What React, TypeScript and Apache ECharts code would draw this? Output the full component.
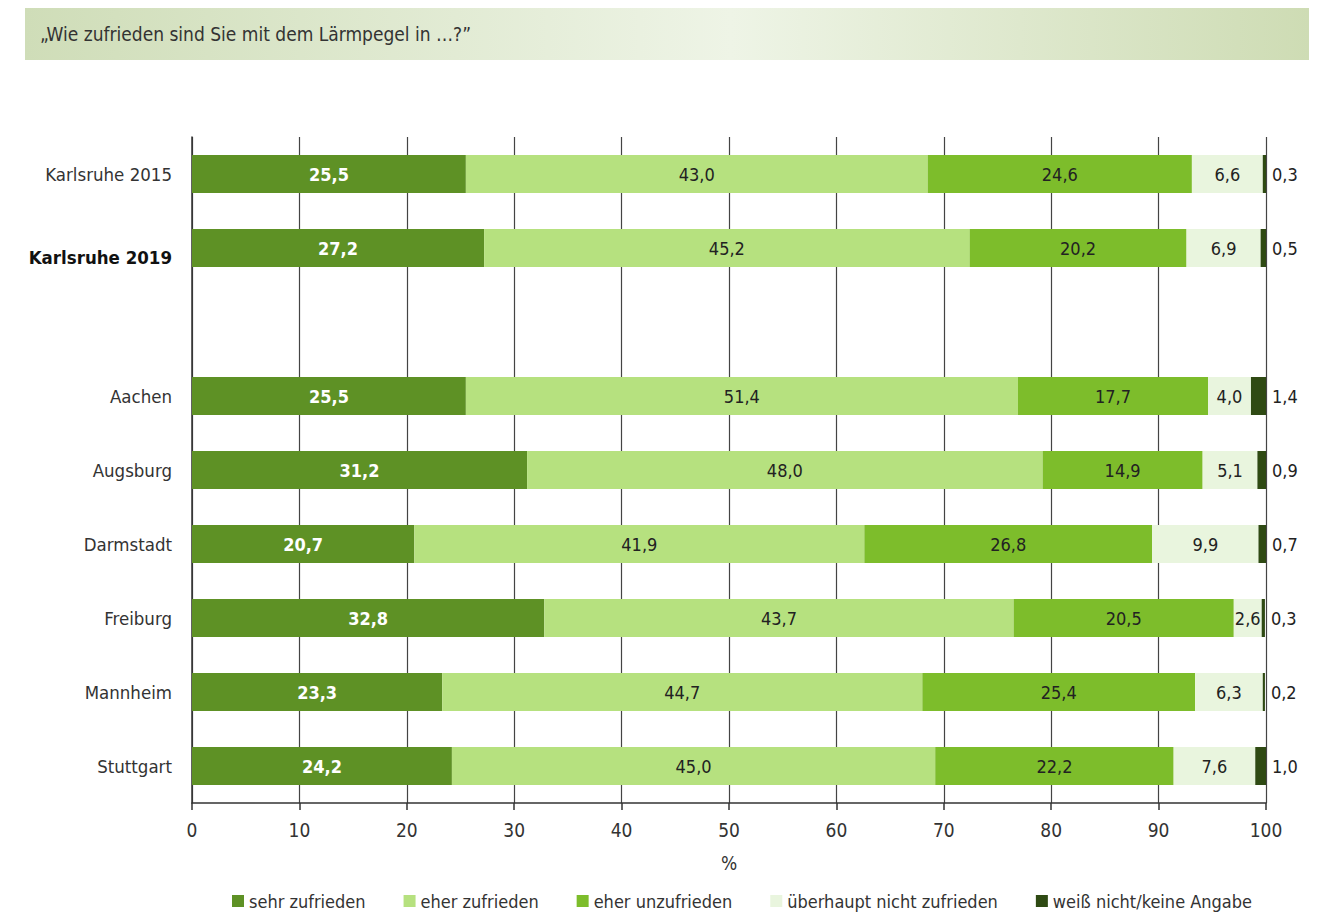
import React, { useEffect, useRef } from "react";
import * as echarts from "echarts";

const categories = ["Karlsruhe 2015", "Karlsruhe 2019", "", "Aachen", "Augsburg", "Darmstadt", "Freiburg", "Mannheim", "Stuttgart"];
const seriesNames = ["sehr zufrieden", "eher zufrieden", "eher unzufrieden", "überhaupt nicht zufrieden", "weiß nicht/keine Angabe"];
const sehrZufrieden = [25.5, 27.2, null, 25.5, 31.2, 20.7, 32.8, 23.3, 24.2];
const eherZufrieden = [43.0, 45.2, null, 51.4, 48.0, 41.9, 43.7, 44.7, 45.0];
const eherUnzufrieden = [24.6, 20.2, null, 17.7, 14.9, 26.8, 20.5, 25.4, 22.2];
const ueberhauptNicht = [6.6, 6.9, null, 4.0, 5.1, 9.9, 2.6, 6.3, 7.6];
const weissNicht = [0.3, 0.5, null, 1.4, 0.9, 0.7, 0.3, 0.2, 1.0];
const xTicks = [0, 10, 20, 30, 40, 50, 60, 70, 80, 90, 100];
const title = "\u201EWie zufrieden sind Sie mit dem Lärmpegel in \u2026?\u201D";
const boldCategory = "Karlsruhe 2019";

const colors = ["#5e9125", "#b6e17f", "#7dbd2b", "#e9f5de", "#2f4a13"];
const FONT = "'Liberation Sans Narrow', 'DejaVu Sans Condensed', 'Noto Sans', sans-serif";
const fmt = (v: number) => v.toFixed(1).replace(".", ",");

export default function App() {
  const ref = useRef<HTMLDivElement>(null);
  useEffect(() => {
    if (!ref.current) return;
    const chart = echarts.init(ref.current, null, { renderer: "svg" });
    const all = [sehrZufrieden, eherZufrieden, eherUnzufrieden, ueberhauptNicht, weissNicht];
    const series = all.map((d, i) => ({
      name: seriesNames[i],
      type: "bar",
      stack: "total",
      barWidth: 38,
      data: d,
      itemStyle: { color: colors[i] },
      label: {
        show: true,
        position: i === 4 ? "right" : "inside",
        distance: 6,
        formatter: (p: any) => (p.value == null ? "" : fmt(p.value)),
        color: i === 0 ? "#ffffff" : "#222222",
        fontWeight: i === 0 ? "bold" : "normal",
        fontSize: 18,
        fontFamily: FONT,
      },
    }));
    chart.setOption({
      animation: false,
      textStyle: { fontFamily: FONT },
      graphic: [
        {
          type: "rect",
          shape: { x: 25, y: 8, width: 1284, height: 52 },
          style: {
            fill: new echarts.graphic.LinearGradient(0, 0, 1, 0, [
              { offset: 0, color: "#cfddb8" },
              { offset: 0.55, color: "#eef4e6" },
              { offset: 1, color: "#cedcb4" },
            ]),
          },
          silent: true,
        },
        {
          type: "text",
          x: 40,
          y: 34,
          style: { text: title, font: `19px ${FONT}`, fill: "#333333", verticalAlign: "middle" },
          silent: true,
        },
      ],
      legend: {
        data: seriesNames,
        left: 232,
        top: 892,
        padding: 0,
        itemWidth: 12,
        itemHeight: 12,
        itemGap: 38,
        icon: "rect",
        textStyle: { fontSize: 18, color: "#333333", fontFamily: FONT },
      },
      grid: { left: 192, right: 75, top: 137, bottom: 112, containLabel: false },
      xAxis: {
        type: "value",
        min: xTicks[0],
        max: xTicks[xTicks.length - 1],
        interval: 10,
        name: "%",
        nameLocation: "middle",
        nameGap: 50,
        nameTextStyle: { fontSize: 19, color: "#333333", fontFamily: FONT },
        axisLine: { show: true, lineStyle: { color: "#333333", width: 1.5 } },
        axisTick: { show: true, length: 7, lineStyle: { color: "#333333", width: 1.5 } },
        axisLabel: { fontSize: 19, color: "#333333", margin: 17, fontFamily: FONT },
        splitLine: { show: true, lineStyle: { color: "#444444", width: 1.2 } },
      },
      yAxis: {
        type: "category",
        inverse: true,
        data: categories,
        axisLine: { show: true, lineStyle: { color: "#333333", width: 1.5 } },
        axisTick: { show: false },
        axisLabel: {
          fontSize: 18.5,
          color: "#333333",
          margin: 20,
          fontFamily: FONT,
          formatter: (v: string) => (v === boldCategory ? `{b|${v}}` : v),
          rich: {
            b: { fontWeight: "bold", color: "#111111", fontSize: 18.5, fontFamily: FONT, padding: [18, 0, 0, 0] },
          },
        },
        splitLine: { show: false },
      },
      series,
    });
    return () => chart.dispose();
  }, []);
  return <div ref={ref} style={{ position: "fixed", left: 0, top: 0, width: 1341, height: 915, background: "#ffffff" }} />;
}
